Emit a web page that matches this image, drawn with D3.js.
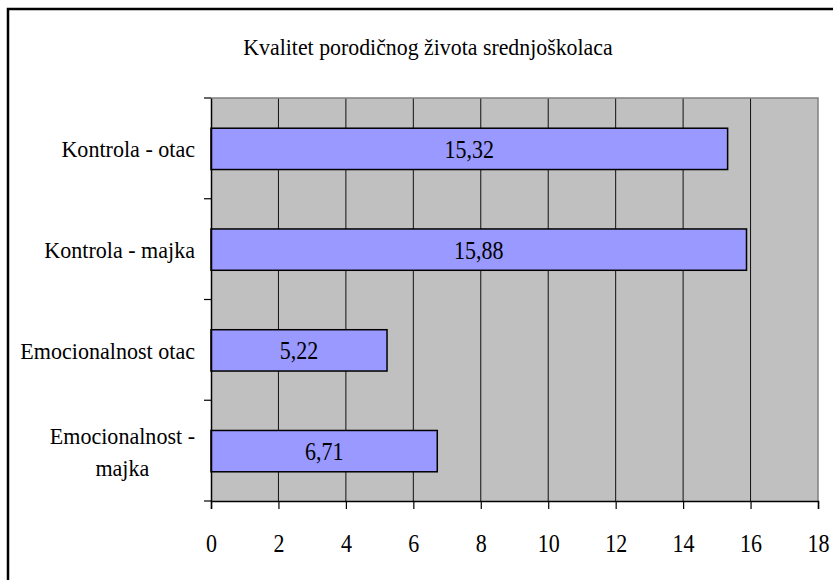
<!DOCTYPE html>
<html>
<head>
<meta charset="utf-8">
<script src="https://cdn.jsdelivr.net/npm/d3@7"></script>
<style>
  html, body { margin: 0; padding: 0; background: #fff; }
  svg { display: block; }
</style>
</head>
<body>
<svg id="chart" width="833" height="580"></svg>
<script>
const title = "Kvalitet porodičnog života srednjoškolaca";
const categories = [
  ["Kontrola - otac"],
  ["Kontrola - majka"],
  ["Emocionalnost otac"],
  ["Emocionalnost -", "majka"]
];
const values = [15.32, 15.88, 5.22, 6.71];
const valueLabels = ["15,32", "15,88", "5,22", "6,71"];
const xTicks = [0, 2, 4, 6, 8, 10, 12, 14, 16, 18];

(function() {
const FONT = '"Liberation Serif"';
const SX = 0.92;
const SXN = 0.88;
const svg = d3.select("#chart");
const pL = 211, pR = 818, pT = 98, pB = 501;
const x = d3.scaleLinear().domain([0, 18]).range([pL, pR]);
const keys = categories.map(c => c.join(" "));
const y = d3.scaleBand().domain(keys).range([pT, pB]).padding(0);
const bw = y.bandwidth();
const barH = bw * 0.41;
const fs = 24, fsN = 25;

function placeText(g, tx, ty, str, size, sx) {
  return g.append("text")
    .attr("transform", `translate(${tx},${ty}) scale(${sx},1)`)
    .attr("text-anchor", "middle")
    .attr("font-size", size)
    .style("font-family", FONT)
    .attr("fill", "#000")
    .text(str);
}

// outer border
svg.append("rect").attr("x", 8).attr("y", 9).attr("width", 900).attr("height", 700)
  .attr("fill", "none").attr("stroke", "#000").attr("stroke-width", 2.5);

// title
placeText(svg, 428, 55, title, 23, 0.95);

// plot background
svg.append("rect").attr("x", pL).attr("y", pT).attr("width", pR - pL).attr("height", pB - pT)
  .attr("fill", "#C0C0C0");

// gridlines
svg.append("g").selectAll("line").data(xTicks.filter(t => t > 0 && t < 18)).join("line")
  .attr("x1", d => x(d)).attr("x2", d => x(d)).attr("y1", pT).attr("y2", pB)
  .attr("stroke", "#111").attr("stroke-width", 1);

// top and right border of plot (gray)
svg.append("path").attr("d", `M${pL},${pT}H${pR}V${pB}`)
  .attr("fill", "none").attr("stroke", "#808080").attr("stroke-width", 1.5);

// bars
svg.append("g").selectAll("rect").data(values).join("rect")
  .attr("x", x(0))
  .attr("y", (d, i) => y(keys[i]) + (bw - barH) / 2 + 0.5)
  .attr("width", d => x(d) - x(0))
  .attr("height", barH)
  .attr("fill", "#9999FF").attr("stroke", "#000").attr("stroke-width", 1.5);

// value labels
const gv = svg.append("g");
values.forEach((d, i) => {
  placeText(gv, (x(0) + x(d)) / 2, y(keys[i]) + bw / 2 + 9.5, valueLabels[i], fsN, SXN);
});

// x axis
const xAxis = d3.axisBottom(x).tickValues(xTicks).tickSize(8).tickFormat(d3.format("d"));
const gx = svg.append("g").attr("transform", `translate(0,${pB})`).call(xAxis);
gx.select(".domain").attr("stroke", "#000").attr("stroke-width", 1.5);
gx.selectAll(".tick line").attr("stroke", "#000").attr("stroke-width", 1.2);
gx.selectAll(".tick text")
  .attr("y", 51).attr("dy", 0)
  .attr("transform", `scale(${SXN},1)`)
  .attr("font-size", fsN).style("font-family", FONT).attr("fill", "#000");

// y axis
const yAxis = d3.axisLeft(y).tickSize(0).tickFormat("");
const gy = svg.append("g").attr("transform", `translate(${pL},0)`).call(yAxis);
gy.select(".domain").attr("stroke", "#000").attr("stroke-width", 1.5);
gy.selectAll(".tick").remove();
// boundary ticks between categories
const bounds = keys.map(k => y(k)).concat([pB]);
svg.append("g").selectAll("line").data(bounds).join("line")
  .attr("x1", pL - 7).attr("x2", pL).attr("y1", d => d).attr("y2", d => d)
  .attr("stroke", "#000").attr("stroke-width", 1.2);

// category labels: block right-aligned at x=195, lines centered within block
const gl = svg.append("g");
categories.forEach((lines, i) => {
  const cy = y(keys[i]) + bw / 2;
  const ys = lines.map((ln, j) => cy + 9 + (j - (lines.length - 1) / 2) * 32);
  const nodes = lines.map((ln, j) => placeText(gl, 0, ys[j], ln, fs, SX));
  let maxW = 0;
  nodes.forEach(n => { maxW = Math.max(maxW, n.node().getComputedTextLength() * SX); });
  nodes.forEach((n, j) => {
    n.attr("transform", `translate(${195 - maxW / 2},${ys[j]}) scale(${SX},1)`);
  });
});
})();
</script>
</body>
</html>
